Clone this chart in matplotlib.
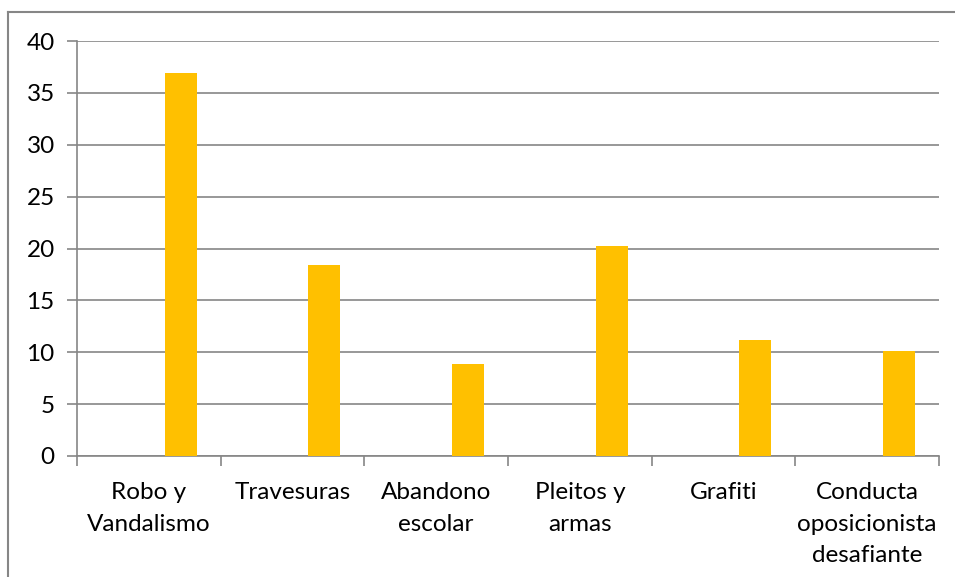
import matplotlib.pyplot as plt
from matplotlib.lines import Line2D
import numpy as np

categorias = ["Robo y\nVandalismo", "Travesuras", "Abandono\nescolar",
              "Pleitos y\narmas", "Grafiti", "Conducta\noposicionista\ndesafiante"]
valores = [36.9, 18.4, 8.9, 20.2, 11.2, 10.1]
y_ticks = [0, 5, 10, 15, 20, 25, 30, 35, 40]

plt.rcParams['font.family'] = ['Lato', 'DejaVu Sans']
gris = '#868686'

fig = plt.figure(figsize=(9.55, 5.77), dpi=100)
ax = fig.add_axes([77 / 955, 1 - 456 / 577, (939 - 77) / 955, (456 - 41) / 577])

x = np.arange(len(categorias))
ax.bar(x + 0.222, valores, width=0.222, color='#FFC000', zorder=3)

ax.set_xlim(-0.5, len(categorias) - 0.5)
ax.set_ylim(0, 40)
ax.set_yticks(y_ticks)
ax.yaxis.grid(True, color=gris, linewidth=1.2, zorder=0)

# category labels centred, tick marks at the boundaries
ax.set_xticks(x)
ax.set_xticklabels(categorias, fontsize=17.5, linespacing=1.6, va='top')
ax.tick_params(axis='x', which='major', length=0, pad=19)
ax.set_xticks(np.arange(-0.5, len(categorias)), minor=True)
ax.tick_params(axis='x', which='minor', length=7, color=gris, width=1.2, direction='out')
ax.tick_params(axis='y', length=7, color=gris, width=1.2, labelsize=17.5, pad=9)

for s in ['top', 'right']:
    ax.spines[s].set_visible(False)
for s in ['left', 'bottom']:
    ax.spines[s].set_color(gris)
    ax.spines[s].set_linewidth(1.2)

# chart area border
fig.add_artist(Line2D([8 / 955, 1], [1 - 12 / 577, 1 - 12 / 577], color=gris, linewidth=1.5))
fig.add_artist(Line2D([8 / 955, 8 / 955], [0, 1 - 12 / 577], color=gris, linewidth=1.5))

fig.savefig('out.png', dpi=100)
